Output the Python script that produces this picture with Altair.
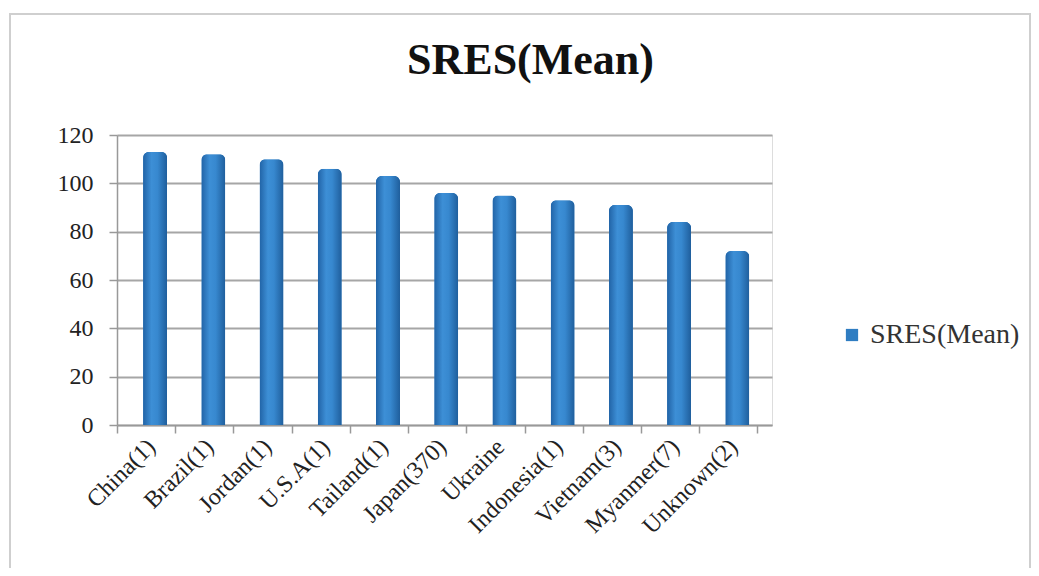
import altair as alt
import pandas as pd

countries = ["China(1)", "Brazil(1)", "Jordan(1)", "U.S.A(1)", "Tailand(1)", "Japan(370)",
             "Ukraine", "Indonesia(1)", "Vietnam(3)", "Myanmer(7)", "Unknown(2)"]
values = [113, 112, 110, 106, 103, 96, 95, 93, 91, 84, 72]
series = ["SRES(Mean)"] * len(countries)
y_ticks = [0, 20, 40, 60, 80, 100, 120]

df = pd.DataFrame({"country": countries, "value": values, "series": series})
frame_df = pd.DataFrame({"k": [0]})

FONT = "Liberation Serif"

x_enc = alt.X("country:N", sort=countries, title=None,
              scale=alt.Scale(paddingInner=0.0, paddingOuter=0.125, align=0),
              axis=alt.Axis(labelAngle=-45, labelFontSize=24, labelFont=FONT, labelColor="#222",
                            labelAlign="right", labelBaseline="middle",
                            tickBand="extent", ticks=True, tickSize=8, tickColor="#999",
                            tickWidth=1.5, labelOffset=5,
                            domainColor="#999", domainWidth=1.5, labelPadding=10, grid=False))
y_enc = alt.Y("value:Q", title=None,
              scale=alt.Scale(domain=[0, 120]),
              axis=alt.Axis(values=y_ticks, labelFontSize=24, labelFont=FONT, labelColor="#222",
                            gridColor="#a6a6a6", gridWidth=2, domainColor="#999", domainWidth=1.5,
                            tickColor="#999", tickSize=8, tickWidth=1.5, labelPadding=16))

base = alt.Chart(df)

bars = base.mark_bar(size=24, xOffset=9, cornerRadiusTopLeft=6, cornerRadiusTopRight=6).encode(
    x=x_enc, y=y_enc,
    color=alt.Color("series:N", scale=alt.Scale(range=["#2f7dc2"]),
                    legend=alt.Legend(title=None, orient="none", legendX=721, legendY=186,
                                      symbolType="square", symbolSize=150, labelFont=FONT,
                                      labelFontSize=28, labelColor="#333", labelOffset=4,
                                      symbolStrokeWidth=0)),
)

shade = base.mark_bar(
    size=24, xOffset=9, cornerRadiusTopLeft=6, cornerRadiusTopRight=6,
    color=alt.Gradient(gradient="linear", x1=0, x2=1, y1=0, y2=0,
                       stops=[alt.GradientStop(color="#2163a6", offset=0),
                              alt.GradientStop(color="#3d8fd6", offset=0.35),
                              alt.GradientStop(color="#3788cf", offset=0.6),
                              alt.GradientStop(color="#1f5e9c", offset=1)])
).encode(x=alt.X("country:N", sort=countries), y="value:Q")

frame = alt.Chart(frame_df).mark_rect(fill=None, stroke="#cfcfcf", strokeWidth=2).encode(
    x=alt.value(-107), x2=alt.value(913), y=alt.value(-121), y2=alt.value(460))

chart = alt.layer(frame, bars, shade).properties(
    width=655, height=290,
    title=alt.TitleParams("SRES(Mean)", font=FONT, fontSize=44, fontWeight="bold",
                          color="#111", anchor="middle", offset=-105, dx=86,
                          baseline="alphabetic"),
    padding={"left": 109, "top": 127, "right": 259, "bottom": 143},
    autosize=alt.AutoSizeParams(type="none"),
).configure_view(stroke=None).configure(background="white")

chart.save("out.html", embed_options={"renderer": "svg", "actions": False})
